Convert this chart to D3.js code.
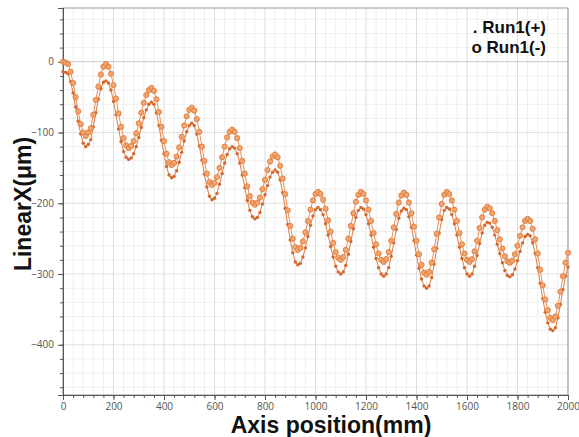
<!DOCTYPE html>
<html>
<head>
<meta charset="utf-8">
<script src="https://cdn.jsdelivr.net/npm/d3@7"></script>
<style>
  body { margin: 0; background: #fff; }
  svg { display: block; }
</style>
</head>
<body>
<div id="chart"></div>
<script>
// positions along the axis, every 10 mm
const positions = d3.range(0, 2001, 10);

// Run1(-) : open circles
const runMinus = [
  0, -1, -3, -14, -30, -50, -70, -88, -100, -105,
  -100, -94, -75, -54, -35, -18, -7, -3, -7, -17,
  -33, -52, -73, -92, -108, -118, -122, -119, -112, -101,
  -87, -72, -58, -47, -40, -37, -41, -53, -71, -92,
  -112, -130, -142, -146, -143, -134, -121, -106, -90, -77,
  -68, -65, -69, -81, -99, -120, -140, -158, -170, -174,
  -171, -163, -150, -135, -120, -107, -99, -96, -99, -108,
  -122, -140, -158, -176, -190, -199, -202, -199, -192, -180,
  -167, -153, -141, -134, -131, -135, -147, -165, -187, -210,
  -232, -250, -262, -266, -263, -254, -241, -225, -209, -196,
  -187, -184, -187, -195, -208, -224, -240, -256, -269, -277,
  -280, -276, -266, -250, -232, -214, -198, -188, -184, -187,
  -196, -209, -225, -242, -258, -271, -280, -283, -279, -269,
  -253, -234, -215, -199, -189, -185, -188, -199, -214, -233,
  -253, -272, -287, -298, -301, -297, -284, -265, -243, -220,
  -201, -188, -184, -187, -196, -209, -225, -242, -258, -271,
  -280, -283, -279, -268, -253, -235, -220, -209, -205, -207,
  -214, -225, -238, -251, -264, -275, -282, -284, -281, -272,
  -260, -246, -234, -225, -222, -225, -236, -251, -271, -294,
  -316, -336, -351, -362, -365, -360, -345, -325, -303, -284,
  -270
];

// Run1(+) : small dots
const runPlus = [
  -14, -15, -17, -28, -44, -64, -84, -102, -115, -120,
  -117, -110, -92, -72, -53, -38, -29, -27, -30, -40,
  -56, -75, -95, -113, -127, -135, -138, -136, -130, -120,
  -107, -93, -79, -68, -60, -57, -60, -72, -90, -111,
  -130, -148, -160, -164, -162, -154, -142, -128, -112, -99,
  -90, -87, -90, -102, -119, -139, -159, -177, -190, -195,
  -193, -186, -173, -158, -143, -131, -123, -120, -122, -130,
  -143, -160, -178, -196, -210, -219, -222, -220, -213, -201,
  -188, -175, -163, -156, -153, -156, -167, -185, -207, -230,
  -252, -270, -283, -287, -285, -276, -263, -247, -231, -218,
  -209, -206, -209, -216, -229, -245, -261, -276, -289, -297,
  -300, -297, -288, -272, -254, -236, -220, -210, -206, -208,
  -216, -229, -245, -262, -278, -291, -300, -303, -300, -291,
  -275, -256, -237, -221, -211, -207, -209, -219, -234, -253,
  -273, -292, -307, -317, -320, -317, -305, -286, -264, -242,
  -223, -210, -206, -208, -216, -229, -245, -262, -278, -291,
  -300, -303, -300, -289, -274, -257, -242, -231, -227, -228,
  -234, -245, -258, -271, -284, -295, -302, -304, -301, -293,
  -281, -268, -256, -247, -244, -246, -256, -271, -291, -313,
  -335, -354, -369, -378, -380, -376, -362, -343, -322, -303,
  -290
];

const xTickLabels = [0, 200, 400, 600, 800, 1000, 1200, 1400, 1600, 1800, 2000];
const yTickLabels = [0, -100, -200, -300, -400];
const legendLabels = [". Run1(+)", "o Run1(-)"];

const width = 579, height = 437;
const margin = { left: 63, top: 8, right: 11, bottom: 42 };
const iw = width - margin.left - margin.right;
const ih = height - margin.top - margin.bottom;

const svg = d3.select("#chart").append("svg")
  .attr("width", width)
  .attr("height", height);

const x = d3.scaleLinear().domain([0, 2000]).range([0, iw]);
const y = d3.scaleLinear().domain([-471, 76]).range([ih, 0]);

const g = svg.append("g")
  .attr("transform", `translate(${margin.left},${margin.top})`);

// grid
const xMinor = d3.range(0, 2001, 40);
const yMinor = d3.range(-460, 76, 20);
g.append("g").selectAll("line")
  .data(xMinor)
  .join("line")
  .attr("x1", d => x(d)).attr("x2", d => x(d))
  .attr("y1", 0).attr("y2", ih)
  .attr("stroke", d => d % 200 === 0 ? "#dcdcdc" : "#efefef")
  .attr("stroke-width", 1);
g.append("g").selectAll("line")
  .data(yMinor)
  .join("line")
  .attr("x1", 0).attr("x2", iw)
  .attr("y1", d => y(d)).attr("y2", d => y(d))
  .attr("stroke", d => d === 0 ? "#c8c8c8" : (d % 100 === 0 ? "#e2e2e2" : "#efefef"))
  .attr("stroke-width", 1);

// frame
g.append("rect")
  .attr("width", iw).attr("height", ih)
  .attr("fill", "none")
  .attr("stroke", "#9a9a9a");

// axes
const xAxis = d3.axisBottom(x).tickValues(xTickLabels).tickSize(5).tickFormat(d3.format("d"));
const xAxisMinor = d3.axisBottom(x).tickValues(xMinor).tickSize(3).tickFormat("");
const yAxis = d3.axisLeft(y).tickValues(yTickLabels).tickSize(5).tickFormat(d3.format("d"));
const yAxisMinor = d3.axisLeft(y).tickValues(yMinor).tickSize(3).tickFormat("");

function styleAxis(sel) {
  sel.select(".domain").attr("stroke", "#555");
  sel.selectAll(".tick line").attr("stroke", "#555");
  sel.selectAll("text")
    .attr("fill", "#555")
    .style("font-family", "'Open Sans', sans-serif")
    .style("font-size", "10px");
}

g.append("g").attr("transform", `translate(0,${ih})`).call(xAxisMinor).call(styleAxis);
g.append("g").attr("transform", `translate(0,${ih})`).call(xAxis).call(styleAxis)
  .selectAll("text").attr("dy", "0.71em");
g.append("g").call(yAxisMinor).call(styleAxis);
g.append("g").call(yAxis).call(styleAxis)
  .selectAll("text").attr("dx", "-0.1em");

// series
const line = d3.line().x((d, i) => x(positions[i])).y(d => y(d));

g.append("path")
  .datum(runPlus)
  .attr("fill", "none")
  .attr("stroke", "#e07c3e")
  .attr("stroke-width", 1)
  .attr("d", line);

g.append("path")
  .datum(runMinus)
  .attr("fill", "none")
  .attr("stroke", "#e8925a")
  .attr("stroke-width", 1)
  .attr("d", line);

g.append("g").selectAll("circle")
  .data(runPlus)
  .join("circle")
  .attr("cx", (d, i) => x(positions[i]))
  .attr("cy", d => y(d))
  .attr("r", 1.7)
  .attr("fill", "#d4672c");

g.append("g").selectAll("circle")
  .data(runMinus)
  .join("circle")
  .attr("cx", (d, i) => x(positions[i]))
  .attr("cy", d => y(d))
  .attr("r", 2.6)
  .attr("fill", "#f1a672")
  .attr("stroke", "#e07a38")
  .attr("stroke-width", 0.9);

// legend
svg.append("g").selectAll("text")
  .data(legendLabels)
  .join("text")
  .attr("x", 546)
  .attr("y", (d, i) => 33 + i * 20)
  .attr("text-anchor", "end")
  .style("font-family", "'Liberation Sans', Arial, sans-serif")
  .style("font-weight", "bold")
  .style("font-size", "17px")
  .attr("fill", "#111")
  .text(d => d);

// axis titles
svg.append("text")
  .attr("x", 331)
  .attr("y", 433)
  .attr("text-anchor", "middle")
  .style("font-family", "'Liberation Sans', Arial, sans-serif")
  .style("font-weight", "bold")
  .style("font-size", "23px")
  .attr("fill", "#111")
  .text("Axis position(mm)");

svg.append("text")
  .attr("transform", "translate(31,204) rotate(-90)")
  .attr("text-anchor", "middle")
  .style("font-family", "'Liberation Sans', Arial, sans-serif")
  .style("font-weight", "bold")
  .style("font-size", "23px")
  .attr("fill", "#111")
  .text("LinearX(μm)");
</script>
</body>
</html>
